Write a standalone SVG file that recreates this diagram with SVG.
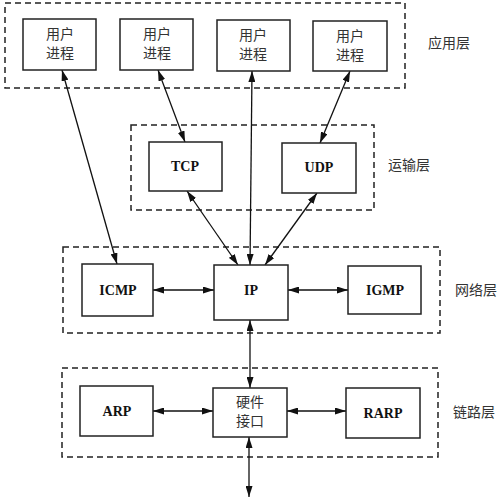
<svg xmlns="http://www.w3.org/2000/svg" width="500" height="500" viewBox="0 0 500 500">
<style>
.layer{fill:none;stroke:#222;stroke-width:1.5;stroke-dasharray:6,4}
.box{fill:#fff;stroke:#222;stroke-width:1.5}
.cn{font-family:"Noto Sans CJK SC",sans-serif;font-size:14px;fill:#333;text-anchor:middle}
.en{font-family:"Liberation Serif",serif;font-weight:bold;font-size:14px;fill:#111;text-anchor:middle}
.lbl{font-family:"Noto Sans CJK SC",sans-serif;font-size:14px;fill:#333}
.c{stroke:#111;stroke-width:1.3;fill:none;marker-start:url(#a);marker-end:url(#a)}
</style>
<defs>
<marker id="a" viewBox="0 0 11 7" refX="11" refY="3.5" markerWidth="11" markerHeight="7" markerUnits="userSpaceOnUse" orient="auto-start-reverse">
<path d="M0,0 L11,3.5 L0,7 Z" fill="#111"/>
</marker>
</defs>
<rect class="layer" x="5" y="3" width="400" height="85"/>
<rect class="layer" x="131" y="125" width="243" height="85"/>
<rect class="layer" x="63" y="247" width="377" height="86"/>
<rect class="layer" x="62" y="368" width="376" height="89"/>
<text class="lbl" x="428" y="48">应用层</text>
<text class="lbl" x="388" y="170">运输层</text>
<text class="lbl" x="455" y="295">网络层</text>
<text class="lbl" x="453" y="417">链路层</text>
<g id="connectors">
<line class="c" x1="62" y1="70" x2="117" y2="264"/>
<line class="c" x1="158" y1="70" x2="185" y2="142"/>
<line class="c" x1="252" y1="71" x2="250" y2="265"/>
<line class="c" x1="350" y1="71" x2="320" y2="143"/>
<line class="c" x1="187" y1="191" x2="238" y2="265"/>
<line class="c" x1="317" y1="193" x2="265" y2="265"/>
<line class="c" x1="153" y1="290" x2="214" y2="290"/>
<line class="c" x1="288" y1="290" x2="348" y2="290"/>
<line class="c" x1="250" y1="320" x2="250" y2="388"/>
<line class="c" x1="153" y1="411" x2="213" y2="411"/>
<line class="c" x1="287" y1="411" x2="346" y2="411"/>
<line class="c" x1="249" y1="437" x2="249" y2="497"/>
</g>
<g id="user1"><rect class="box" x="23" y="19" width="73" height="51"/><text class="cn" x="60" y="39">用户</text><text class="cn" x="60" y="58">进程</text></g>
<g id="user2"><rect class="box" x="120" y="19" width="73" height="51"/><text class="cn" x="157" y="39">用户</text><text class="cn" x="157" y="58">进程</text></g>
<g id="user3"><rect class="box" x="217" y="20" width="73" height="51"/><text class="cn" x="253" y="40">用户</text><text class="cn" x="253" y="59">进程</text></g>
<g id="user4"><rect class="box" x="313" y="21" width="74" height="50"/><text class="cn" x="350" y="41">用户</text><text class="cn" x="350" y="60">进程</text></g>
<g id="tcp"><rect class="box" x="149" y="142" width="73" height="49"/><text class="en" x="185" y="171">TCP</text></g>
<g id="udp"><rect class="box" x="282" y="143" width="74" height="50"/><text class="en" x="319" y="172">UDP</text></g>
<g id="icmp"><rect class="box" x="82" y="264" width="71" height="52"/><text class="en" x="118" y="295">ICMP</text></g>
<g id="ip"><rect class="box" x="214" y="265" width="74" height="55"/><text class="en" x="251" y="295">IP</text></g>
<g id="igmp"><rect class="box" x="348" y="266" width="73" height="48"/><text class="en" x="385" y="295">IGMP</text></g>
<g id="arp"><rect class="box" x="80" y="386" width="73" height="50"/><text class="en" x="117" y="416">ARP</text></g>
<g id="hw"><rect class="box" x="213" y="388" width="74" height="49"/><text class="cn" x="250" y="407">硬件</text><text class="cn" x="250" y="426">接口</text></g>
<g id="rarp"><rect class="box" x="346" y="388" width="74" height="50"/><text class="en" x="383" y="418">RARP</text></g>
</svg>
